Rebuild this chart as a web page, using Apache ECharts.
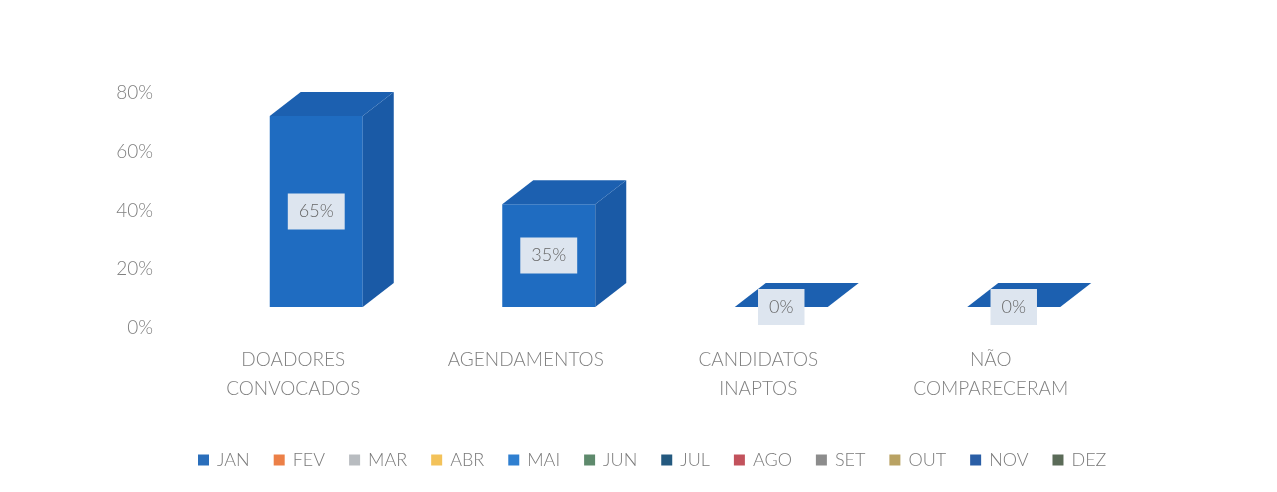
<!DOCTYPE html>
<html>
<head>
<meta charset="utf-8">
<script src="https://cdn.jsdelivr.net/npm/echarts@6/dist/echarts.min.js"></script>
<style>
  html, body { margin: 0; padding: 0; background: #fff; }
  #chart { width: 1277px; height: 492px; }
</style>
</head>
<body>
<div id="chart"></div>
<script>
// categorias e valores (só JAN tem dados)
const categories = ["DOADORES\nCONVOCADOS", "AGENDAMENTOS", "CANDIDATOS\nINAPTOS", "NÃO\nCOMPARECERAM"];
const months = ["JAN", "FEV", "MAR", "ABR", "MAI", "JUN", "JUL", "AGO", "SET", "OUT", "NOV", "DEZ"];
const janValues = [65, 35, 0, 0];
const yTicks = [0, 20, 40, 60, 80];
const monthColors = ["#2a6ebb", "#ec8047", "#b8bcc0", "#f3c25a", "#2f7fd0", "#5e8a6c",
  "#24597f", "#c2525c", "#8c8c8c", "#b9a263", "#2a5ea6", "#5b6b58"];

const chart = echarts.init(document.getElementById("chart"));

// desenha caixa 3D para cada ponto
function renderBox(params, api) {
  const idx = api.value(0);
  const val = api.value(1);
  const base = api.coord([idx, 0]);
  const top = api.coord([idx, val]);
  const w = api.size([1, 0])[0] * 0.4;
  const lift = 21, dx = 31, dy = -24;
  const x0 = base[0] - w / 2, x1 = base[0] + w / 2;
  const yb = base[1] - lift, yt = top[1] - lift;
  const children = [];
  if (yb - yt > 0.5) {
    children.push({ type: "rect", shape: { x: x0, y: yt, width: w, height: yb - yt }, style: { fill: "#1f6cc1" } });
    children.push({ type: "polygon", shape: { points: [[x1, yt], [x1 + dx, yt + dy], [x1 + dx, yb + dy], [x1, yb]] }, style: { fill: "#1a5aa6" } });
  }
  children.push({ type: "polygon", shape: { points: [[x0, yt], [x1, yt], [x1 + dx, yt + dy], [x0 + dx, yt + dy]] }, style: { fill: "#1c60b0" } });
  children.push({
    type: "text",
    x: base[0], y: (yt + yb) / 2,
    style: {
      text: val + "%", align: "center", verticalAlign: "middle",
      fill: "#666666", font: "300 18px Lato", backgroundColor: "#dde5ef", padding: [9, 11]
    }
  });
  return { type: "group", children: children };
}

const series = months.map((m, i) => ({
  name: m,
  type: "custom",
  renderItem: renderBox,
  itemStyle: { color: monthColors[i] },
  encode: { x: 0, y: 1 },
  data: i === 0 ? janValues.map((v, k) => [k, v]) : []
}));

const option = {
  backgroundColor: "#ffffff",
  animation: false,
  textStyle: { fontFamily: "Lato" },
  grid: { left: 200, right: 147, top: 93, bottom: 164 },
  legend: {
    data: months,
    bottom: 18,
    left: 193,
    icon: "rect",
    itemWidth: 11,
    itemHeight: 11,
    itemGap: 24,
    textStyle: { color: "#7a7a7a", fontSize: 18, fontWeight: 300, fontFamily: "Lato", padding: [0, 0, 0, 3] }
  },
  xAxis: {
    type: "category",
    data: categories,
    axisLine: { show: false },
    axisTick: { show: false },
    axisLabel: {
      interval: 0, margin: 17, color: "#808080", fontSize: 19, fontWeight: 300, lineHeight: 29,
      padding: [0, 46, 0, 0], verticalAlign: "top"
    }
  },
  yAxis: {
    type: "value",
    min: yTicks[0],
    max: yTicks[yTicks.length - 1],
    interval: 20,
    splitLine: { show: false },
    axisLine: { show: false },
    axisTick: { show: false },
    axisLabel: { formatter: "{value}%", color: "#808080", fontSize: 19, fontWeight: 300, margin: 47 }
  },
  series: series
};

option && chart.setOption(option);
</script>
</body>
</html>
